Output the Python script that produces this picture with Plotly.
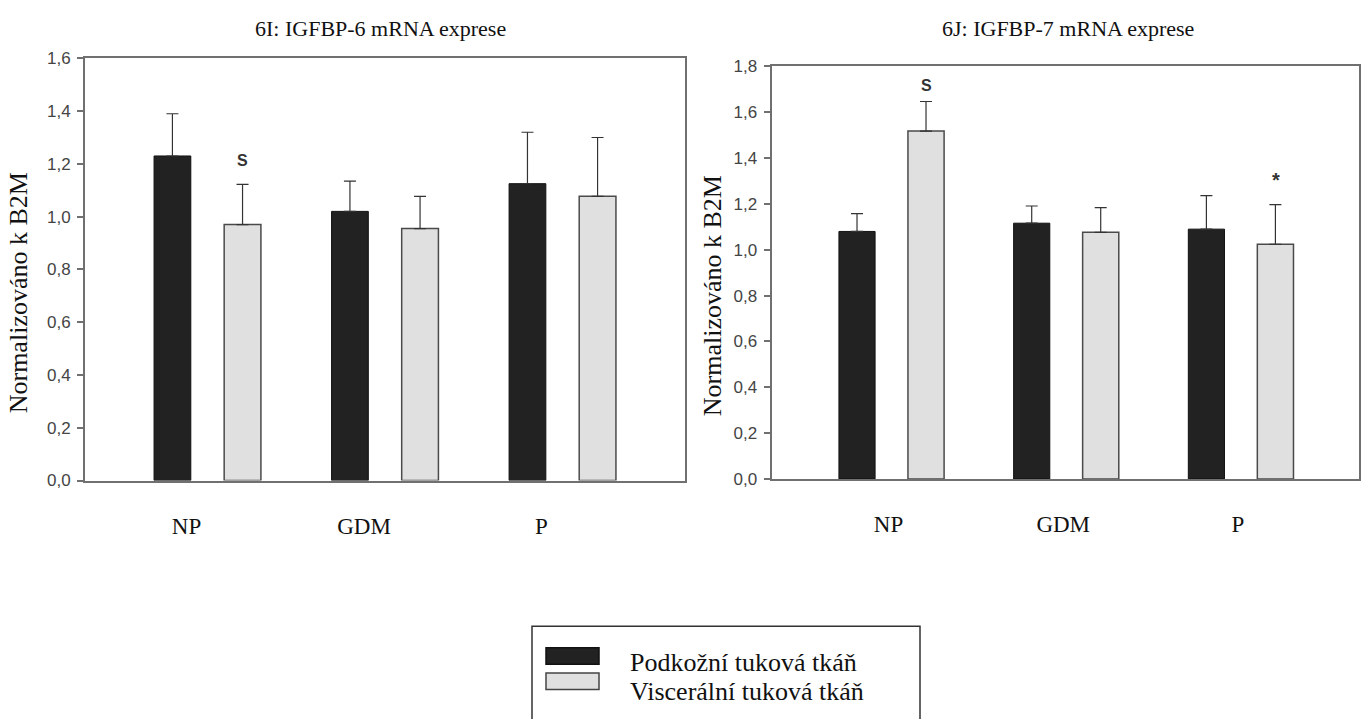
import plotly.graph_objects as go

# ---------------- data ----------------
categories = ["NP", "GDM", "P"]

igfbp6_podkozni = [1.23, 1.02, 1.125]
igfbp6_podkozni_err = [0.16, 0.115, 0.195]
igfbp6_visceralni = [0.97, 0.955, 1.077]
igfbp6_visceralni_err = [0.152, 0.122, 0.223]

igfbp7_podkozni = [1.08, 1.116, 1.09]
igfbp7_podkozni_err = [0.078, 0.075, 0.146]
igfbp7_visceralni = [1.518, 1.076, 1.024]
igfbp7_visceralni_err = [0.129, 0.108, 0.173]

series_names = ["Podkožní tuková tkáň", "Viscerální tuková tkáň"]
titles = ["6I: IGFBP-6 mRNA exprese", "6J: IGFBP-7 mRNA exprese"]
y_title = "Normalizováno k B2M"

# significance marks: (subplot, text, category, y value)
sig_marks = [(1, "S", "NP", 1.214), (2, "S", "NP", 1.715), (2, "*", "P", 1.304)]

# ---------------- style ----------------
W, H = 1368, 719
DARK = "#222222"
LIGHT = "#e0e0e0"
SERIF = "Liberation Serif, Times New Roman, serif"
SANS = "Liberation Sans, Arial, sans-serif"
AX = "#707070"


def px_x(p):
    return p / W


def px_y(p):
    return 1 - p / H


fig = go.Figure()


def add_pair(xa, ya, pod, pod_err, vis, vis_err):
    fig.add_trace(go.Bar(
        x=categories, y=pod, name=series_names[0], xaxis=xa, yaxis=ya,
        marker=dict(color=DARK, line=dict(color="#111111", width=1)),
        error_y=dict(type="data", symmetric=False, array=pod_err,
                     arrayminus=[0] * len(pod), color="#333333",
                     thickness=1.2, width=6),
        showlegend=False,
    ))
    fig.add_trace(go.Bar(
        x=categories, y=vis, name=series_names[1], xaxis=xa, yaxis=ya,
        marker=dict(color=LIGHT, line=dict(color="#4a4a4a", width=1.5)),
        error_y=dict(type="data", symmetric=False, array=vis_err,
                     arrayminus=[0] * len(vis), color="#333333",
                     thickness=1.2, width=6),
        showlegend=False,
    ))


add_pair("x", "y", igfbp6_podkozni, igfbp6_podkozni_err,
         igfbp6_visceralni, igfbp6_visceralni_err)
add_pair("x2", "y2", igfbp7_podkozni, igfbp7_podkozni_err,
         igfbp7_visceralni, igfbp7_visceralni_err)

xaxis_common = dict(
    type="category", showline=True, linecolor=AX, linewidth=1.8, mirror=True,
    ticks="", showgrid=False, zeroline=False,
    tickfont=dict(family=SERIF, size=23, color="#111111"),
    ticklabelstandoff=24,
)
yaxis_common = dict(
    showline=True, linecolor=AX, linewidth=1.8, mirror=True,
    ticks="outside", ticklen=6, tickcolor=AX, tickwidth=1.5,
    showgrid=False, zeroline=False, tickformat=".1f",
    tickfont=dict(family=SANS, size=17, color="#444444"),
    ticklabelstandoff=3,
)

fig.update_layout(
    width=W, height=H,
    margin=dict(l=0, r=0, t=0, b=0),
    paper_bgcolor="white", plot_bgcolor="white",
    barmode="group", bargap=0.21, bargroupgap=0.476,
    separators=", ",
    xaxis=dict(domain=[px_x(85), px_x(685)], range=[-0.69, 2.69],
               anchor="y", ticklabelshift=-21, **xaxis_common),
    yaxis=dict(domain=[px_y(484.3), px_y(50.7)], range=[0, 1.6], dtick=0.2,
               anchor="x", **yaxis_common),
    xaxis2=dict(domain=[px_x(771.5), px_x(1359)], range=[-0.687, 2.676],
                anchor="y2", ticklabelshift=-3, **xaxis_common),
    yaxis2=dict(domain=[px_y(482.7), px_y(59)], range=[0, 1.8], dtick=0.2,
                anchor="x2", **yaxis_common),
    showlegend=False,
)

annotations = []
# chart titles
for tx, cx in zip(titles, [380, 1068]):
    annotations.append(dict(
        text=tx, x=px_x(cx), y=px_y(20), xref="paper", yref="paper",
        xanchor="center", yanchor="middle", showarrow=False,
        font=dict(family=SERIF, size=22, color="#111111")))
# y axis titles
for cx, cy in [(18, 292), (712, 295)]:
    annotations.append(dict(
        text=y_title, x=px_x(cx), y=px_y(cy), xref="paper", yref="paper",
        xanchor="center", yanchor="middle", showarrow=False, textangle=-90,
        font=dict(family=SERIF, size=26, color="#111111")))
# significance marks
for sp, txt, cat, yv in sig_marks:
    suffix = "" if sp == 1 else str(sp)
    annotations.append(dict(
        text="<b>%s</b>" % txt, x=cat, y=yv, xref="x" + suffix, yref="y" + suffix,
        xshift=35, showarrow=False, xanchor="center", yanchor="middle",
        font=dict(family=SANS, size=16 if txt == "S" else 20, color="#333333")))
# manual legend text
for name, cy in zip(series_names, [671.5, 701.5]):
    annotations.append(dict(
        text=name, x=px_x(628), y=px_y(cy), xref="paper", yref="paper",
        xanchor="left", yanchor="middle", showarrow=False,
        font=dict(family=SERIF, size=26, color="#111111")))
fig.update_layout(annotations=annotations)

# legend frame and swatches
shapes = [
    dict(type="rect", xref="paper", yref="paper",
         x0=px_x(532), x1=px_x(920), y0=px_y(760), y1=px_y(634),
         line=dict(color="#333333", width=1.5), fillcolor="rgba(0,0,0,0)"),
    dict(type="rect", xref="paper", yref="paper",
         x0=px_x(546), x1=px_x(599), y0=px_y(673), y1=px_y(656),
         line=dict(color="#111111", width=1.5), fillcolor=DARK),
    dict(type="rect", xref="paper", yref="paper",
         x0=px_x(546), x1=px_x(599), y0=px_y(699), y1=px_y(682),
         line=dict(color="#444444", width=1.5), fillcolor=LIGHT),
]
fig.update_layout(shapes=shapes)

fig.write_html("out.html")
